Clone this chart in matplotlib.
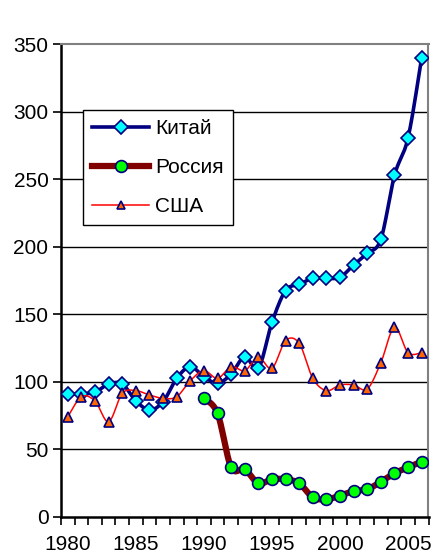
import numpy as np
import matplotlib
matplotlib.use("Agg")
import matplotlib.pyplot as plt
from matplotlib.ticker import FixedLocator

plt.rcParams.update({
    'font.family': ['Liberation Sans', 'DejaVu Sans'],
    'font.size': 15,
})

# Data
years = list(range(1980, 2007))
china = [91, 91, 92.3, 98.4, 98.4, 86, 79.2, 85.3, 102.6, 111.2, 103.8, 98.9, 105.8,
         118.6, 110, 144, 167.5, 172.2, 176.6, 176.6, 177.4, 186.5, 195.1, 205.5,
         252.8, 280.7, 340]
russia_years = list(range(1990, 2007))
russia = [87.8, 76.7, 36.8, 35.3, 24.9, 27.9, 27.9, 24.9, 14.6, 13.1, 15.8, 19.2,
          20.5, 26.1, 32.3, 36.8, 40.9]
usa = [74.2, 89, 85.8, 70.5, 91.5, 93.5, 90.3, 87.8, 89, 100.9, 108.3, 102.6, 111.2,
       108.3, 118.2, 110, 130.5, 128.5, 102.6, 93.5, 97.7, 97.7, 94.7, 114.2, 140.4,
       121.6, 121.6]
labels = ['Китай', 'Россия', 'США']
y_ticks = [0, 50, 100, 150, 200, 250, 300, 350]
x_labels = [1980, 1985, 1990, 1995, 2000, 2005]


def smooth(x, y, n=20):
    """Catmull-Rom style smoothing similar to Excel smoothed lines."""
    x = np.asarray(x, float)
    y = np.asarray(y, float)
    px = np.concatenate([[x[0]], x, [x[-1]]])
    py = np.concatenate([[y[0]], y, [y[-1]]])
    xs, ys = [], []
    t = np.linspace(0, 1, n)
    for i in range(1, len(px) - 2):
        p0 = np.array([px[i], py[i]])
        p3 = np.array([px[i + 1], py[i + 1]])
        p1 = p0 + (np.array([px[i + 1], py[i + 1]]) - np.array([px[i - 1], py[i - 1]])) / 6
        p2 = p3 - (np.array([px[i + 2], py[i + 2]]) - np.array([px[i], py[i]])) / 6
        b = ((1 - t) ** 3)[:, None] * p0 + (3 * (1 - t) ** 2 * t)[:, None] * p1 \
            + (3 * (1 - t) * t ** 2)[:, None] * p2 + (t ** 3)[:, None] * p3
        xs.extend(b[:, 0])
        ys.extend(b[:, 1])
    return xs, ys


fig = plt.figure(figsize=(4.35, 5.58), dpi=100)
ax = fig.add_axes((61 / 435, 41 / 558, 367.5 / 435, 473 / 558))

for v in y_ticks[1:-1]:
    ax.axhline(v, color='black', lw=1.0, zorder=1)

sx, sy = smooth(years, china)
ax.plot(sx, sy, color='#000080', lw=2.6, zorder=3, solid_capstyle='round')
ax.plot(years, china, ls='none', marker='D', ms=7, mfc='#00FFFF', mec='#000080',
        mew=1.2, zorder=4)

sx, sy = smooth(russia_years, russia)
ax.plot(sx, sy, color='#800000', lw=4.5, zorder=5, solid_capstyle='round')
ax.plot(russia_years, russia, ls='none', marker='o', ms=8.5, mfc='#00FF00',
        mec='#000080', mew=1.2, zorder=6)

sx, sy = smooth(years, usa)
ax.plot(sx, sy, color='#FF0000', lw=1.1, zorder=7)
ax.plot(years, usa, ls='none', marker='^', ms=7, mfc='#FF6600', mec='#000080',
        mew=1.2, zorder=8)

# legend proxies
h1, = ax.plot([], [], color='#000080', lw=2.6, marker='D', ms=7, mfc='#00FFFF',
              mec='#000080', mew=1.2)
h2, = ax.plot([], [], color='#800000', lw=4.5, marker='o', ms=8.5, mfc='#00FF00',
              mec='#000080', mew=1.2)
h3, = ax.plot([], [], color='#FF0000', lw=1.1, marker='^', ms=6, mfc='#FF6600',
              mec='#000080', mew=1.2)
leg = ax.legend([h1, h2, h3], labels, loc='upper left',
                bbox_to_anchor=(22 / 367.5, 1 - 66 / 473), frameon=True,
                fancybox=False, framealpha=1, edgecolor='black', fontsize=15,
                handlelength=2.7, handletextpad=0.3, labelspacing=0.95,
                borderpad=0.45, borderaxespad=0)
leg.get_frame().set_linewidth(1.0)
leg.set_zorder(10)

ax.set_xlim(1979.5, 2006.5)
ax.set_ylim(0, 350)
ax.set_yticks(y_ticks)
ax.set_xticks(x_labels)
ax.set_xticklabels([str(v) for v in x_labels])
ax.xaxis.set_minor_locator(FixedLocator(np.arange(1979.5, 2007, 1.0)))
ax.tick_params(axis='x', which='major', length=0, pad=13)
ax.tick_params(axis='x', which='minor', length=6, width=1.2, direction='out')
ax.tick_params(axis='y', length=6, width=1.2, direction='out', pad=3)

ax.spines['left'].set_linewidth(1.8)
ax.spines['bottom'].set_linewidth(1.8)
ax.spines['top'].set_color('#808080')
ax.spines['right'].set_color('#808080')
ax.spines['top'].set_linewidth(1.5)
ax.spines['right'].set_linewidth(1.5)

fig.savefig('out.png', dpi=100)
